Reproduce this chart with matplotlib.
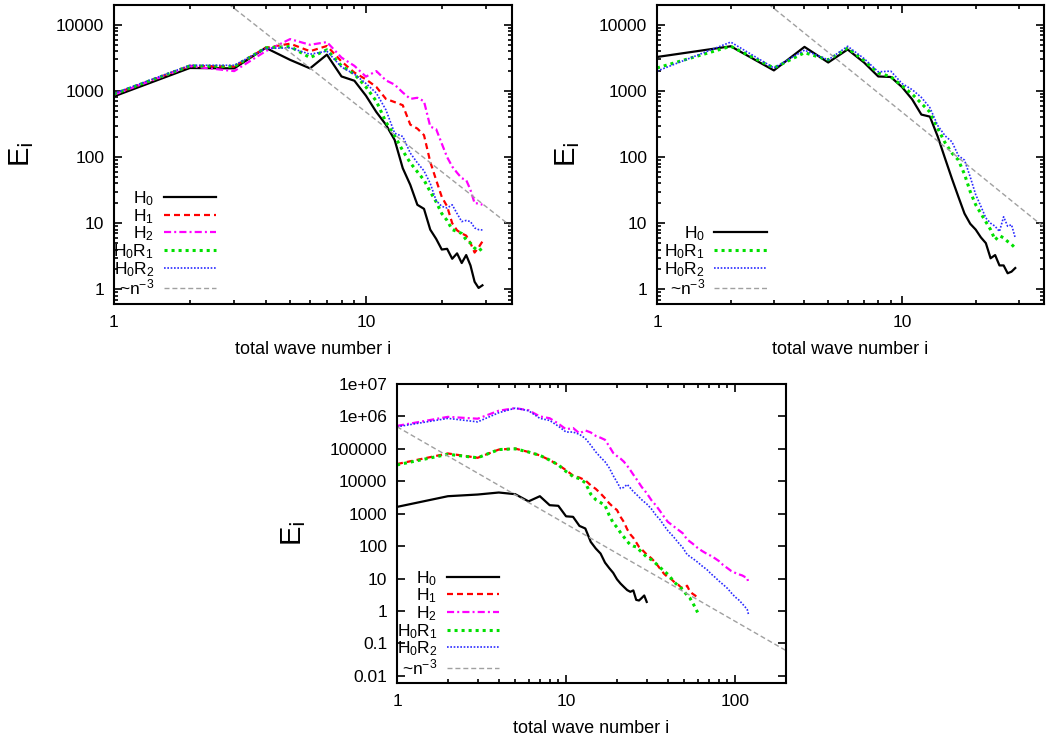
import matplotlib
matplotlib.use('Agg')
import matplotlib.pyplot as plt
import matplotlib.ticker as mticker
import numpy as np

plt.rcParams['font.family'] = ['Liberation Sans', 'DejaVu Sans']
plt.rcParams['mathtext.default'] = 'regular'

## ---- data ----
## top panels: total wave number 1..29
n_top = list(range(1, 30))

tl_h0 = [830, 2230, 2200, 4500, 2960, 2200, 3550, 1660, 1430, 850, 480, 310, 182, 68, 38,
         19, 16.5, 8.0, 5.8, 4.0, 4.1, 2.9, 3.5, 2.5, 3.3, 2.3, 1.3, 1.05, 1.15]
tl_h1 = [900, 2400, 2350, 4500, 5200, 4000, 4800, 2800, 1900, 1500, 1150, 760, 680, 610, 310,
         270, 215, 85, 45, 25, 18, 10, 7.8, 7.0, 6.5, 5.0, 3.6, 4.3, 5.3]
tl_h2 = [880, 2370, 2000, 4000, 6100, 5000, 5500, 3200, 2400, 1650, 2000, 1450, 1250, 950, 760,
         790, 700, 290, 265, 160, 100, 72, 58, 48, 45, 32, 20, 20, 19]
tl_h0r1 = [900, 2400, 2350, 4500, 4700, 3200, 4200, 2400, 1800, 1150, 700, 340, 210, 125, 82,
           60, 45, 30, 21, 14, 11, 8.0, 7.5, 7.0, 5.6, 5.0, 4.2, 3.8, 4.2]
tl_h0r2 = [920, 2450, 2450, 4400, 4500, 3600, 4000, 2300, 1800, 1300, 930, 520, 230, 205, 115,
           82, 62, 40, 22, 18, 17, 19, 14, 10.6, 11, 10.6, 8.5, 8.0, 7.9]

tr_h0 = [3270, 4750, 2050, 4650, 2700, 4250, 2700, 1660, 1630, 1150, 750, 440, 410, 204, 95,
         47, 25, 14, 9.8, 8.0, 6.1, 5.0, 2.95, 3.3, 2.3, 2.3, 1.75, 1.85, 2.1]
tr_h0r1 = [2230, 4750, 2230, 3800, 2960, 4450, 2900, 1870, 1650, 1200, 900, 650, 480, 270, 165,
           115, 90, 55, 30, 19, 14, 10.5, 8.0, 5.6, 6.5, 6.0, 5.3, 4.8, 4.2]
tr_h0r2 = [2000, 5500, 2230, 4150, 2960, 4750, 3100, 1950, 2000, 1300, 1050, 800, 560, 300, 210,
           170, 105, 90, 50, 27, 18, 12, 10, 9.0, 7.5, 12.5, 9.0, 9.5, 6.0]

## bottom panel
n_bot_h0 = list(range(1, 31))
bot_h0 = [1620, 3460, 3900, 4500, 4000, 2400, 3460, 1830, 1750, 830, 800, 420, 350, 135, 84,
          59, 31, 21, 15, 9.5, 7.0, 5.5, 4.4, 3.9, 4.3, 2.2, 2.1, 2.5, 3.0, 1.9]

n_bot_mid = list(range(1, 29)) + list(range(30, 61, 2))
bot_h1 = [3.4e4, 7.2e4, 5.3e4, 9.5e4, 1.02e5, 8.0e4, 6.3e4, 4.5e4, 3.2e4, 2.2e4, 1.5e4, 1.3e4,
          1.07e4, 7500, 5800, 4200, 3000, 2100, 1600, 1300, 800, 550, 330, 230, 180, 130, 95, 80,
          55, 42, 30, 20, 14, 11, 9.5, 7.5, 6.5, 5.3, 5.0, 6.0, 4.0, 3.4, 3.0, 2.5]
bot_h0r1 = [3.2e4, 6.8e4, 5.3e4, 9.5e4, 1.0e5, 8.0e4, 6.3e4, 4.5e4, 3.2e4, 2.0e4, 1.4e4, 1.2e4,
            9000, 4000, 2700, 2200, 1800, 900, 520, 380, 260, 190, 140, 110, 100, 95, 78, 65,
            46, 38, 29, 22, 17, 13.5, 10, 7.5, 6.0, 5.0, 4.0, 3.0, 2.5, 1.8, 1.3, 0.9]

n_bot_high = list(range(1, 27)) + [28, 30, 32, 34, 36, 38, 40, 43, 46, 49, 52, 56, 60, 64, 68,
                                   72, 76, 80, 85, 90, 95, 100, 105, 110, 115, 118, 120]
bot_h2 = [5.1e5, 9.7e5, 8.5e5, 1.5e6, 1.8e6, 1.55e6, 1.0e6, 8.8e5, 6.0e5, 4.0e5, 4.4e5, 3.0e5,
          3.7e5, 3.2e5, 2.5e5, 2.2e5, 1.9e5, 1.2e5, 7.5e4, 6.0e4, 5.0e4, 4.0e4, 3.0e4, 2.2e4,
          1.6e4, 1.2e4, 6700, 4300, 2600, 1800, 1200, 800, 560, 420, 320, 250, 160, 120, 88, 70,
          58, 50, 42, 35, 26, 21, 17, 15, 13.5, 12.5, 11, 10.5, 6.8]
bot_h0r2 = [4.8e5, 8.7e5, 6.8e5, 1.3e6, 1.8e6, 1.5e6, 8.7e5, 7.5e5, 5.0e5, 3.3e5, 3.3e5, 2.8e5,
            2.1e5, 1.3e5, 8.0e4, 5.5e4, 4.0e4, 2.6e4, 1.5e4, 9500, 6000, 6500, 8000, 6200, 4800,
            4000, 2700, 2000, 1400, 900, 650, 430, 300, 200, 130, 90, 55, 42, 32, 24, 19, 14, 11,
            8.5, 6.5, 5.0, 3.6, 2.7, 2.2, 1.7, 1.3, 1.1, 0.78]

## reference power law ~n^-3
ref_coef = 4.8e5
ref_power = -3

labels = {'H0': 'H$_0$', 'H1': 'H$_1$', 'H2': 'H$_2$',
          'H0R1': 'H$_0$R$_1$', 'H0R2': 'H$_0$R$_2$', 'ref': '~n$^{-3}$'}

top_yticks = [1, 10, 100, 1000, 10000]
top_yticklabels = ['1', '10', '100', '1000', '10000']
top_xticks = [1, 10]
bot_yticks = [1e-2, 1e-1, 1, 10, 100, 1000, 1e4, 1e5, 1e6, 1e7]
bot_yticklabels = ['0.01', '0.1', '1', '10', '100', '1000', '10000', '100000', '1e+06', '1e+07']
bot_xticks = [1, 10, 100]

## line styles, gnuplot-like
styles = {
    'H0': dict(color='black', lw=1.6, ls='-'),
    'H1': dict(color='#ff0000', lw=1.6, dashes=(2.7, 1.8)),
    'H2': dict(color='#ff00ff', lw=1.6, dashes=(3.2, 1.4, 0.9, 1.4)),
    'H0R1': dict(color='#00e000', lw=2.2, dashes=(1, 1.3)),
    'H0R2': dict(color='#2a2aff', lw=1.2, dashes=(1, 1)),
    'ref': dict(color='#a0a0a0', lw=1.0, dashes=(3.6, 2.1)),
}

fig = plt.figure(figsize=(10.54, 7.38), dpi=100)
W, H = 1054.0, 738.0


def make_axes(left, right, top, bottom):
    return fig.add_axes([left / W, 1 - bottom / H, (right - left) / W, (bottom - top) / H])


def style_axes(ax, xlim, ylim, xticks, yticks, yticklabels, yminor=True):
    ax.set_xscale('log')
    ax.set_yscale('log')
    ax.set_xlim(*xlim)
    ax.set_ylim(*ylim)
    ax.xaxis.set_major_locator(mticker.FixedLocator(xticks))
    ax.xaxis.set_major_formatter(mticker.FixedFormatter([str(t) for t in xticks]))
    ax.xaxis.set_minor_locator(mticker.LogLocator(base=10, subs=np.arange(2, 10), numticks=20))
    ax.xaxis.set_minor_formatter(mticker.NullFormatter())
    ax.yaxis.set_major_locator(mticker.FixedLocator(yticks))
    ax.yaxis.set_major_formatter(mticker.FixedFormatter(yticklabels))
    if yminor:
        ax.yaxis.set_minor_locator(mticker.LogLocator(base=10, subs=np.arange(2, 10), numticks=20))
    else:
        ax.yaxis.set_minor_locator(mticker.NullLocator())
    ax.yaxis.set_minor_formatter(mticker.NullFormatter())
    ax.tick_params(which='both', direction='in', top=True, right=True, width=1.2)
    ax.tick_params(which='major', length=6, labelsize=12.5)
    ax.tick_params(which='minor', length=3)
    ax.tick_params(axis='y', pad=7)
    ax.tick_params(axis='x', pad=8)
    for s in ax.spines.values():
        s.set_linewidth(1.5)
    ax.set_xlabel('total wave number i', fontsize=13)
    ax.set_ylabel('E$_\\mathrm{i}$', fontsize=21)
    ax.xaxis.set_label_coords(0.5, -0.125)


def draw(ax, series, xlim, legend_xy):
    for key, x, y in series:
        ax.plot(x, y, label=labels[key], **styles[key])
    ax.plot(xlim, [ref_coef * xlim[0] ** ref_power, ref_coef * xlim[1] ** ref_power],
            label=labels['ref'], **styles['ref'])
    ax.legend(loc='lower right', bbox_to_anchor=legend_xy, frameon=False, markerfirst=False,
              fontsize=12.5, handlelength=3.0, handletextpad=0.55, labelspacing=-0.06,
              borderpad=0, borderaxespad=0)


top_xlim = (1, 38)
top_ylim = (0.6, 20000)
bot_xlim = (1, 200)
bot_ylim = (0.006, 1e7)

## top left
ax1 = make_axes(114, 512, 5, 304)
draw(ax1, [('H0', n_top, tl_h0), ('H1', n_top, tl_h1), ('H2', n_top, tl_h2),
           ('H0R1', n_top, tl_h0r1), ('H0R2', n_top, tl_h0r2)], top_xlim, (0.256, 0.022))
style_axes(ax1, top_xlim, top_ylim, top_xticks, top_yticks, top_yticklabels)
ax1.yaxis.set_label_coords(-0.195, 0.5)

## top right
ax2 = make_axes(657, 1044, 5, 304)
draw(ax2, [('H0', n_top, tr_h0), ('H0R1', n_top, tr_h0r1), ('H0R2', n_top, tr_h0r2)],
     top_xlim, (0.283, 0.022))
style_axes(ax2, top_xlim, top_ylim, top_xticks, top_yticks, top_yticklabels)
ax2.yaxis.set_label_coords(-0.195, 0.5)

## bottom
ax3 = make_axes(397, 786, 384, 683)
draw(ax3, [('H0', n_bot_h0, bot_h0), ('H1', n_bot_mid, bot_h1), ('H2', n_bot_high, bot_h2),
           ('H0R1', n_bot_mid, bot_h0r1), ('H0R2', n_bot_high, bot_h0r2)],
     bot_xlim, (0.262, 0.02))
style_axes(ax3, bot_xlim, bot_ylim, bot_xticks, bot_yticks, bot_yticklabels, yminor=False)
ax3.yaxis.set_label_coords(-0.23, 0.5)

fig.savefig('out.png', dpi=100)
